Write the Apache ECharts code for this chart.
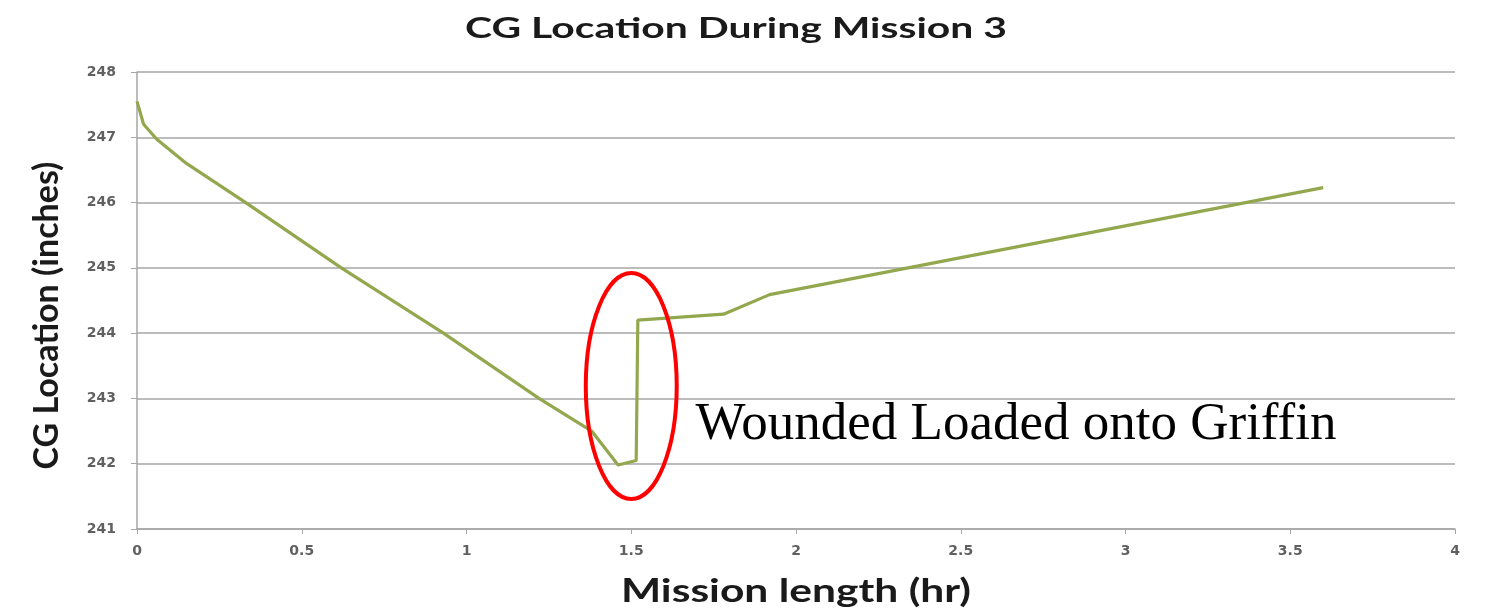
<!DOCTYPE html>
<html>
<head>
<meta charset="utf-8">
<title>CG Location During Mission 3</title>
<script src="https://cdn.jsdelivr.net/npm/echarts@6/dist/echarts.min.js"></script>
<style>
  html, body { margin: 0; padding: 0; background: #ffffff; }
  #chart { width: 1486px; height: 610px; }
</style>
</head>
<body>
<div id="chart"></div>
<script>
// Mission time (hr) and CG location (inches)
const missionHours = [0, 0.02, 0.06, 0.15, 0.33, 0.62, 0.93, 1.22, 1.38, 1.46, 1.515, 1.52, 1.78, 1.92, 3.6];
const cgInches     = [247.55, 247.2, 246.97, 246.6, 246.0, 245.0, 244.0, 243.0, 242.5, 241.98, 242.05, 244.2, 244.29, 244.59, 246.23];

const xTicks = [0, 0.5, 1, 1.5, 2, 2.5, 3, 3.5, 4];
const yTicks = [241, 242, 243, 244, 245, 246, 247, 248];

const titleText = 'CG Location During Mission 3';
const xAxisTitle = 'Mission length (hr)';
const yAxisTitle = 'CG Location (inches)';

// Highlight ring around the loading event, in data units
const ringCenter = [1.5, 243.19];
const ringHalfWidthHr = 0.138;
const ringHalfHeightIn = 1.73;
const noteText = 'Wounded Loaded onto Griffin';
const notePos = [1.695, 242.59];

const seriesData = missionHours.map((h, i) => [h, cgInches[i]]);

const chart = echarts.init(document.getElementById('chart'));
const gridColor = '#a6a6a6';
const labelFont = { fontFamily: 'DejaVu Sans', fontWeight: 'bold', fontSize: 14, color: '#606060' };

chart.setOption({
  animation: false,
  backgroundColor: '#ffffff',
  grid: { left: 137, right: 31, top: 72, bottom: 81 },
  xAxis: {
    type: 'value',
    min: xTicks[0],
    max: xTicks[xTicks.length - 1],
    interval: 0.5,
    axisLine: { lineStyle: { color: gridColor, width: 1.5 } },
    axisTick: { show: true, length: 5, lineStyle: { color: gridColor } },
    splitLine: { show: false },
    axisLabel: Object.assign({ margin: 15, formatter: v => String(v) }, labelFont)
  },
  yAxis: {
    type: 'value',
    min: yTicks[0],
    max: yTicks[yTicks.length - 1],
    interval: 1,
    name: yAxisTitle,
    nameLocation: 'middle',
    nameGap: 73,
    nameRotate: 90,
    nameTextStyle: {
      fontFamily: 'Lato', fontWeight: 'bold', fontSize: 34, color: '#1a1a1a',
      padding: [0, 30, 0, 0]
    },
    axisLine: { show: true, lineStyle: { color: gridColor, width: 1.5 } },
    axisTick: { show: true, length: 6, lineStyle: { color: gridColor } },
    splitLine: { show: true, lineStyle: { color: gridColor, width: 1.5 } },
    axisLabel: Object.assign({ margin: 21 }, labelFont)
  },
  series: [{
    type: 'line',
    data: seriesData,
    showSymbol: false,
    smooth: false,
    lineStyle: { color: '#93a74e', width: 3.2 },
    z: 3
  }]
});

// Title, x-axis title, ring and note (ring and note placed from data coordinates)
function drawAnnotations() {
  const c = chart.convertToPixel({ gridIndex: 0 }, ringCenter);
  const e = chart.convertToPixel({ gridIndex: 0 }, [ringCenter[0] + ringHalfWidthHr, ringCenter[1] + ringHalfHeightIn]);
  const n = chart.convertToPixel({ gridIndex: 0 }, notePos);
  const mid = chart.convertToPixel({ gridIndex: 0 }, [(xTicks[0] + xTicks[xTicks.length - 1]) / 2, yTicks[0]]);
  chart.setOption({
    graphic: [
      {
        type: 'text',
        x: 736, y: 29, scaleX: 1.46,
        style: {
          text: titleText, fill: '#1a1a1a',
          font: 'bold 28px Lato', textAlign: 'center', textVerticalAlign: 'middle'
        }
      },
      {
        type: 'text',
        x: mid[0], y: 592, scaleX: 1.33,
        style: {
          text: xAxisTitle, fill: '#1a1a1a',
          font: 'bold 32px Lato', textAlign: 'center', textVerticalAlign: 'middle'
        }
      },
      {
        type: 'ellipse',
        shape: { cx: c[0], cy: c[1], rx: Math.abs(e[0] - c[0]), ry: Math.abs(c[1] - e[1]) },
        style: { fill: 'none', stroke: '#ff0000', lineWidth: 4 },
        z: 10
      },
      {
        type: 'text',
        x: n[0], y: n[1],
        style: {
          text: noteText, fill: '#000000',
          font: '53px "Liberation Serif"', textVerticalAlign: 'middle', textAlign: 'left'
        },
        z: 10
      }
    ]
  });
}
drawAnnotations();
</script>
</body>
</html>
